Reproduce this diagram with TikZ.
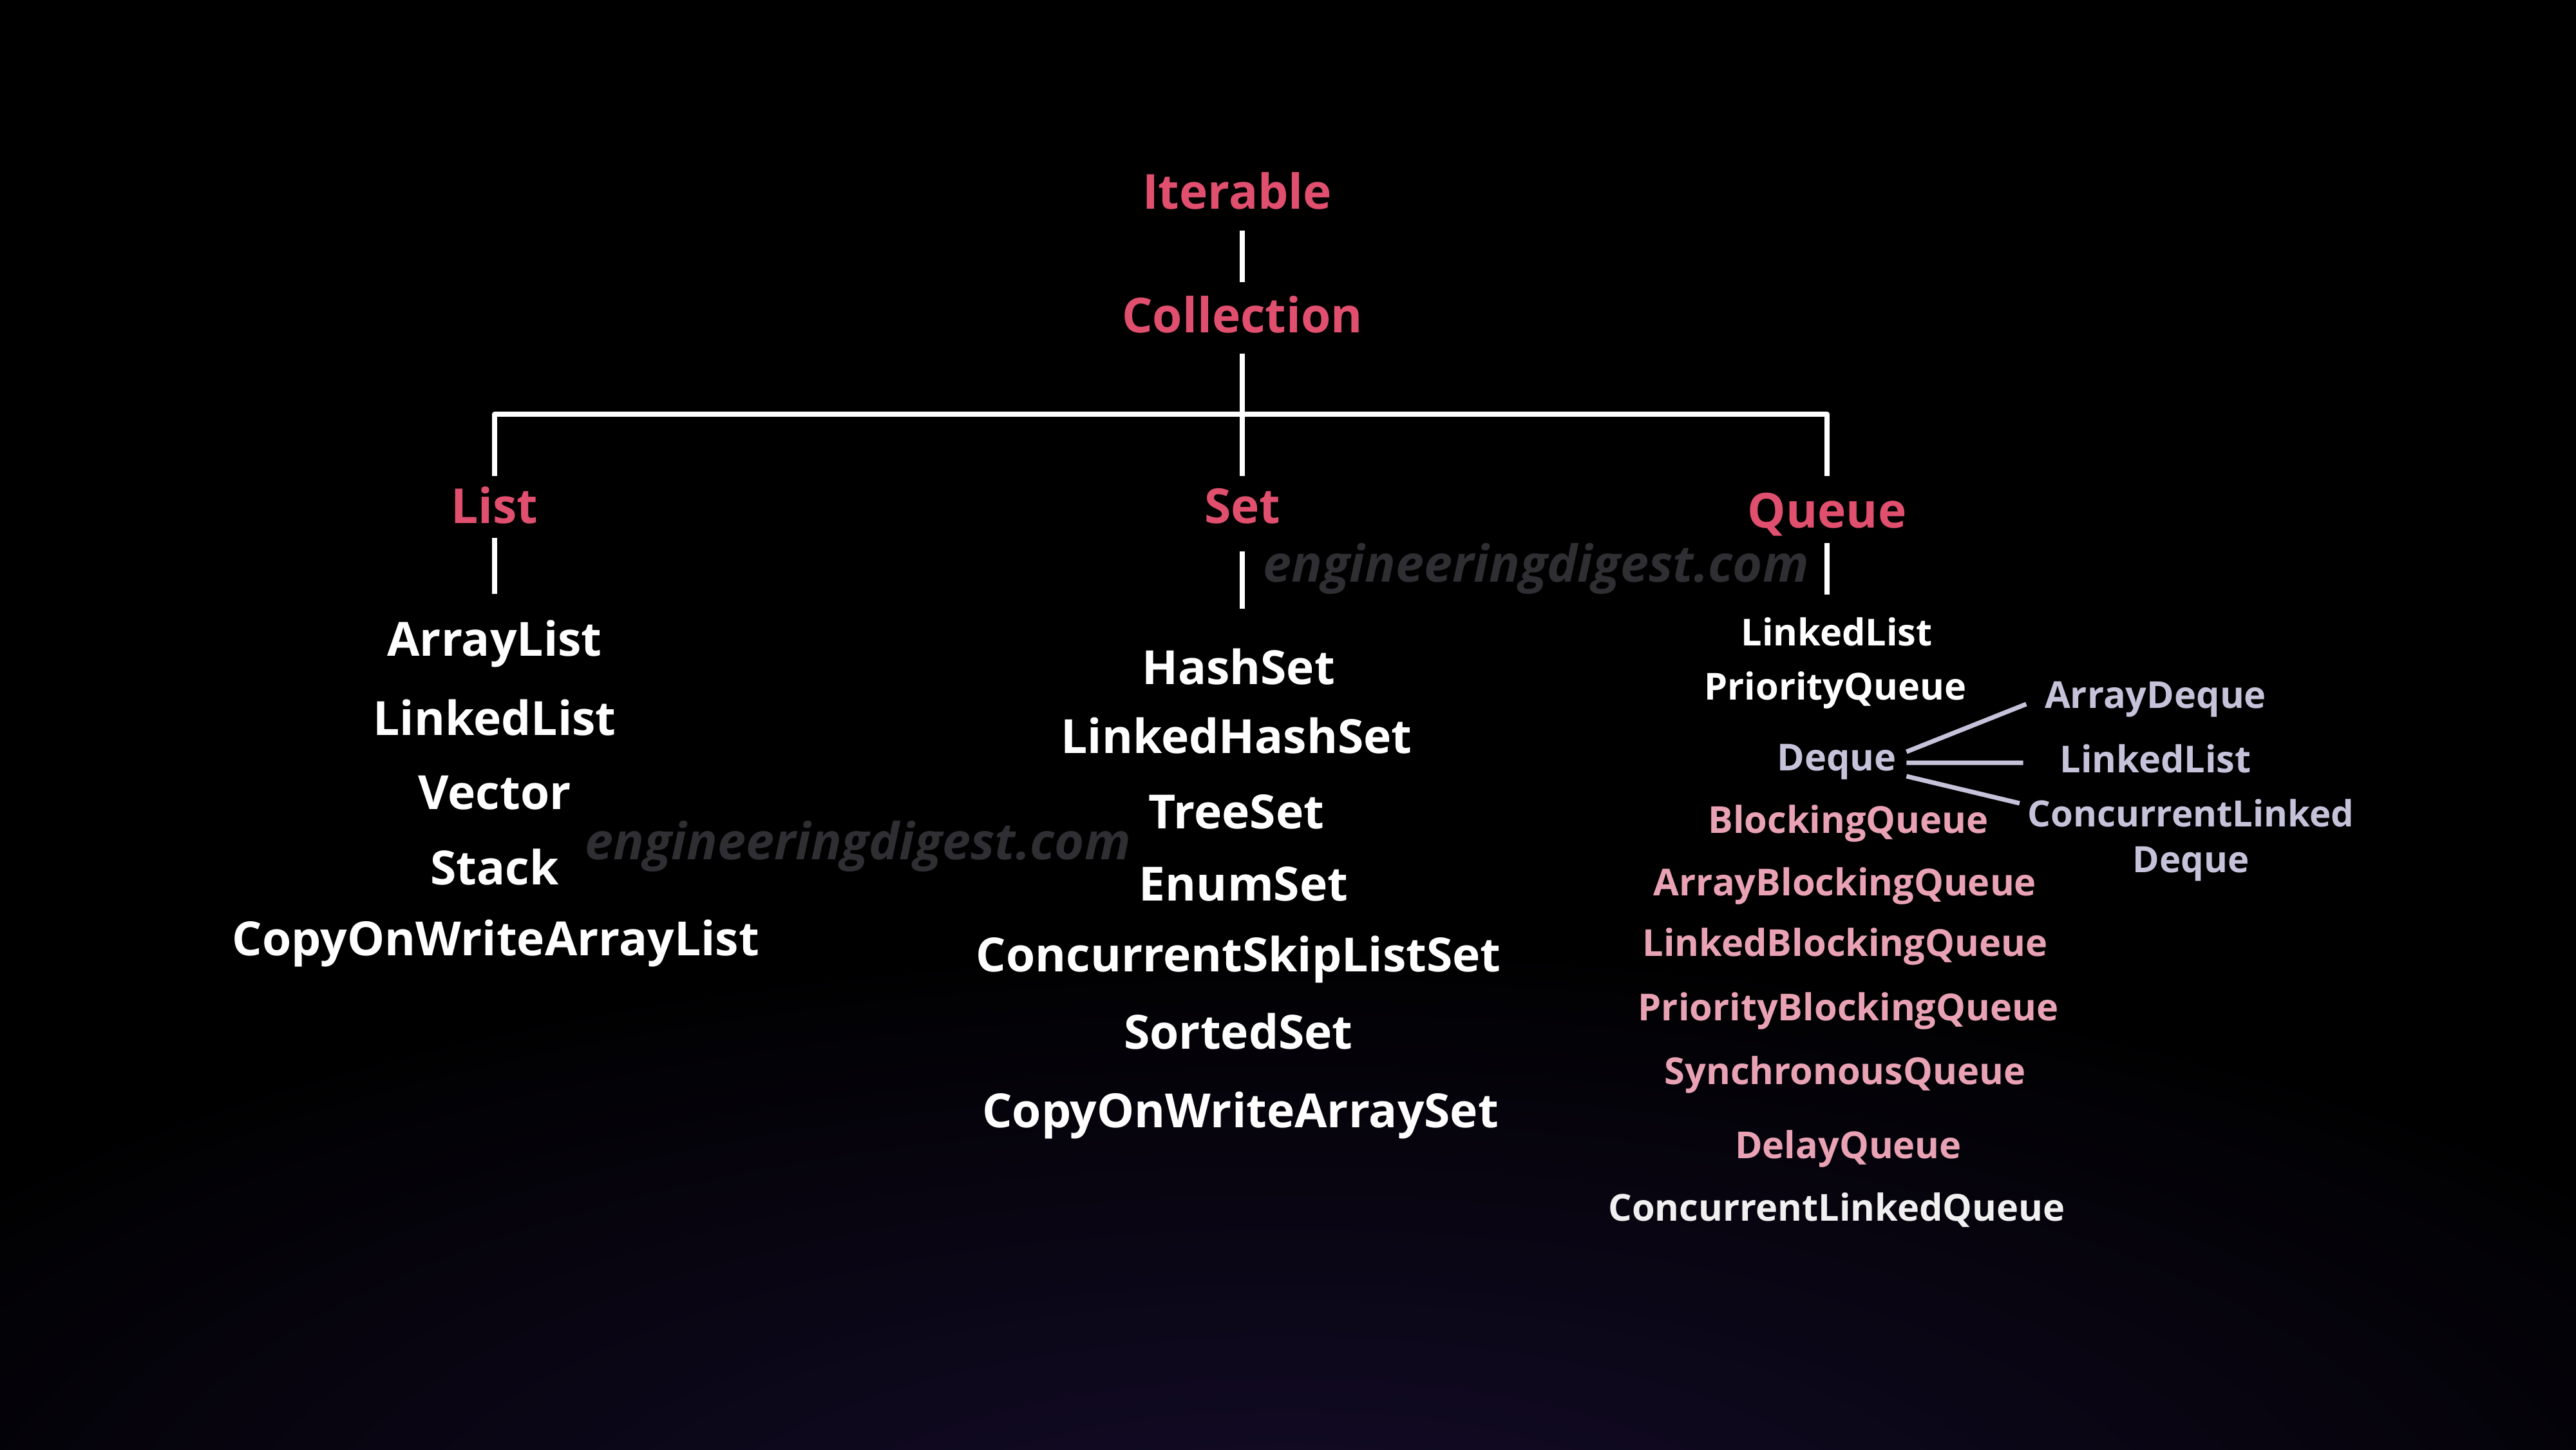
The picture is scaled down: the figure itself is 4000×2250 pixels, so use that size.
\documentclass[tikz,border=0pt]{standalone}
\usepackage{fontspec}
\setmainfont{Open Sans}
\usetikzlibrary{calc}
\definecolor{headred}{HTML}{E14F6F}
\definecolor{pinkq}{HTML}{E9A2B4}
\definecolor{lav}{HTML}{C5C2DA}
\definecolor{wm}{HTML}{2E2E33}
\definecolor{glow}{HTML}{150C2B}
\definecolor{offwhite}{HTML}{F0F0F0}
\tikzset{
  head/.style={inner sep=0pt, text height=15.3pt, text depth=0pt, text=headred,
    font=\fontsize{21.3pt}{25pt}\selectfont\bfseries},
  item/.style={inner sep=0pt, text height=15pt, text depth=0pt, text=white,
    font=\fontsize{20.8pt}{25pt}\selectfont\bfseries},
  qitem/.style={inner sep=0pt, text height=11.8pt, text depth=0pt, text=white,
    font=\fontsize{16.4pt}{20pt}\selectfont\bfseries},
  qpink/.style={qitem, text=pinkq},
  qlav/.style={qitem, text=lav},
  qlavtwo/.style={inner sep=0pt, align=center, text=lav,
    font=\fontsize{16pt}{20.2pt}\selectfont\bfseries},
  watermark/.style={inner sep=0pt, text=wm,
    font=\fontsize{22.5pt}{27pt}\selectfont\bfseries\itshape},
  conn/.style={draw=white, line width=2.2pt, line join=round},
  dconn/.style={draw=lav, line width=2pt},
}
\begin{document}
\begin{tikzpicture}[x=0.01cm, y=-0.01cm]
\path[use as bounding box] (0,0) rectangle (4000,2250);
\fill[black] (0,0) rectangle (4000,2250);
\begin{scope}
  \clip (0,0) rectangle (4000,2250);
  \shade[inner color=glow, outer color=black] (2000,2450) ellipse [x radius=2600, y radius=1000];
\end{scope}

% headings
\node[head] (iter)  at (1921,298) {Iterable};
\node[head] (coll)  at (1929,490) {Collection};
\node[head] (list)  at (768,786)  {List};
\node[head] (set)   at (1929,786) {Set};
\node[head] (queue) at (2837,793) {Queue};
\coordinate (bar) at (1929,643);

% list children
\node[item] (l1) at (768,992)  {ArrayList};
\node[item] (l2) at (768,1115) {LinkedList};
\node[item] (l3) at (768,1230) {Vector};
\node[item] (l4) at (768,1347) {Stack};
\node[item] (l5) at (770,1457) {CopyOnWriteArrayList};

% set children
\node[item] (s1) at (1923,1036) {HashSet};
\node[item] (s2) at (1920,1143) {LinkedHashSet};
\node[item] (s3) at (1920,1260) {TreeSet};
\node[item] (s4) at (1931,1372) {EnumSet};
\node[item] (s5) at (1923,1482) {ConcurrentSkipListSet};
\node[item] (s6) at (1923,1602) {SortedSet};
\node[item] (s7) at (1926,1724) {CopyOnWriteArraySet};

% queue children
\node[qitem] (q1) at (2852,982)  {LinkedList};
\node[qitem] (q2) at (2850,1066) {PriorityQueue};
\node[qlav]  (deque) at (2852,1176) {Deque};
\node[qpink] (q4) at (2870,1273) {BlockingQueue};
\node[qpink] (q5) at (2865,1370) {ArrayBlockingQueue};
\node[qpink] (q6) at (2865,1464) {LinkedBlockingQueue};
\node[qpink] (q7) at (2870,1564) {PriorityBlockingQueue};
\node[qpink] (q8) at (2865,1663) {SynchronousQueue};
\node[qpink] (q9) at (2870,1778) {DelayQueue};
\node[qitem, text=offwhite] (q10) at (2852,1875) {ConcurrentLinkedQueue};

% deque children
\node[qlav] (adq) at (3347,1079) {ArrayDeque};
\node[qlav] (dll) at (3347,1179) {LinkedList};
\node[qlavtwo] (cld) at (3402,1304) {ConcurrentLinked\\Deque};

% watermarks
\node[watermark] (w1) at (2385,883)  {engineeringdigest.com};
\node[watermark] (w2) at (1332,1314) {engineeringdigest.com};

% connectors
\draw[conn, shorten <=0.32cm, shorten >=0.24cm] (iter.south -| coll.north) -- (coll.north);
\draw[conn, shorten <=0.31cm] (coll.south) -- (coll.south |- bar);
\draw[conn, shorten <=0.19cm, shorten >=0.26cm] (list.north) -- (list.north |- bar) -- (queue.north |- bar) -- (queue.north);
\draw[conn, shorten >=0.19cm] (set.north |- bar) -- (set.north);
\draw[conn, shorten <=0.21cm, shorten >=0.43cm] (list.south) -- (list.south |- l1.north);
\draw[conn, shorten <=0.42cm, shorten >=0.64cm] (set.south) -- (set.south |- s1.north);
\draw[conn, shorten <=0.22cm, shorten >=0.38cm] (queue.south) -- (queue.south |- q1.north);

\draw[dconn] ([xshift=0.15cm,yshift=0.09cm]deque.east) -- ([xshift=-0.28cm,yshift=-0.14cm]adq.west);
\draw[dconn] ([xshift=0.15cm,yshift=-0.08cm]deque.east) -- ([xshift=-0.56cm,yshift=-0.05cm]dll.west);
\draw[dconn] ([xshift=0.15cm,yshift=-0.29cm]deque.east) -- ([xshift=-0.12cm,yshift=0.57cm]cld.west);
\end{tikzpicture}
\end{document}
